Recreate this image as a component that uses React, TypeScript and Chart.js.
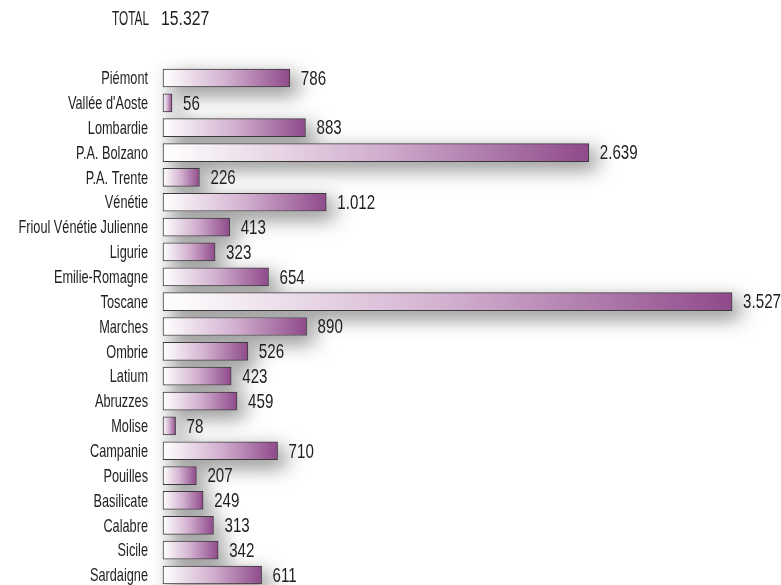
import React, { useEffect, useRef } from 'react';
import { Chart, registerables } from 'chart.js';

Chart.register(...registerables);

const regions = [
  'Piémont', "Vallée d'Aoste", 'Lombardie', 'P.A. Bolzano', 'P.A. Trente', 'Vénétie',
  'Frioul Vénétie Julienne', 'Ligurie', 'Emilie-Romagne', 'Toscane', 'Marches', 'Ombrie',
  'Latium', 'Abruzzes', 'Molise', 'Campanie', 'Pouilles', 'Basilicate', 'Calabre', 'Sicile', 'Sardaigne',
];
const values = [786, 56, 883, 2639, 226, 1012, 413, 323, 654, 3527, 890, 526, 423, 459, 78, 710, 207, 249, 313, 342, 611];
const totalLabel = 'TOTAL';
const totalValue = 15327;

const FONT = '"Liberation Sans", Arimo, Arial, sans-serif';
const TEXT = '#1e1e1e';

function fmt(n: number): string {
  return String(n).replace(/\B(?=(\d{3})+(?!\d))/g, '.');
}

function drawText(c: CanvasRenderingContext2D, text: string, x: number, y: number, size: number, sx: number, align: CanvasTextAlign) {
  c.save();
  c.translate(x, y);
  c.scale(sx, 1);
  c.font = `${size}px ${FONT}`;
  c.fillStyle = TEXT;
  c.textAlign = align;
  c.textBaseline = 'middle';
  c.fillText(text, 0, 0);
  c.restore();
}

const shadowPlugin = {
  id: 'barShadow',
  beforeDatasetsDraw(chart: any) {
    const c = chart.ctx;
    const meta = chart.getDatasetMeta(0);
    c.save();
    c.shadowColor = 'rgba(0,0,0,0.5)';
    c.shadowBlur = 20;
    c.shadowOffsetX = 8;
    c.shadowOffsetY = 7;
    c.fillStyle = '#ffffff';
    meta.data.forEach((bar: any) => {
      const { x, y, base, height } = bar.getProps(['x', 'y', 'base', 'height'], true);
      c.fillRect(Math.min(base, x), y - height / 2, Math.abs(x - base), height);
    });
    c.restore();
  },
};

const labelPlugin = {
  id: 'textLabels',
  afterDatasetsDraw(chart: any) {
    const c = chart.ctx;
    const meta = chart.getDatasetMeta(0);
    const ys = chart.scales.y;
    meta.data.forEach((bar: any, i: number) => {
      drawText(c, fmt(values[i]), bar.x + 11, bar.y + 1, 21, 0.72, 'left');
      drawText(c, regions[i], ys.right - 15, ys.getPixelForTick(i) + 1, 19, 0.67, 'right');
    });
    drawText(c, totalLabel, 112, 19, 20, 0.59, 'left');
    drawText(c, fmt(totalValue), 161, 19, 20, 0.79, 'left');
  },
};

export default function App() {
  const ref = useRef<HTMLCanvasElement>(null);
  useEffect(() => {
    if (!ref.current) return;
    const chart = new Chart(ref.current, {
      type: 'bar',
      data: {
        labels: regions,
        datasets: [
          {
            data: values,
            clip: false,
            barThickness: 18,
            borderWidth: 1,
            borderColor: '#3a3a3a',
            borderSkipped: false,
            backgroundColor: (ctx: any) => {
              const ch = ctx.chart;
              if (!ch.chartArea || ctx.raw == null) return '#914b8d';
              const xs = ch.scales.x;
              const x0 = xs.getPixelForValue(0);
              const x1 = xs.getPixelForValue(ctx.raw as number);
              const g = ch.ctx.createLinearGradient(x0, 0, Math.max(x1, x0 + 1), 0);
              g.addColorStop(0, '#ffffff');
              g.addColorStop(0.5, '#d2b0cf');
              g.addColorStop(1, '#8f4a8b');
              return g;
            },
          },
        ],
      },
      options: {
        indexAxis: 'y',
        responsive: false,
        animation: false,
        layout: { padding: { top: 78, bottom: 10, left: 0, right: 0 } },
        scales: {
          x: { display: false, min: 0, max: 3830 },
          y: {
            offset: false,
            grid: { display: false },
            border: { display: false },
            ticks: { display: false },
            afterFit: (s: any) => {
              s.width = 163;
            },
          },
        },
        plugins: {
          legend: { display: false },
          tooltip: { enabled: false },
          title: { display: false },
        },
      } as any,
      plugins: [shadowPlugin, labelPlugin],
    });
    return () => chart.destroy();
  }, []);
  return (
    <div style={{ position: 'fixed', left: 0, top: 0, width: 781, height: 585, background: '#fff' }}>
      <canvas ref={ref} width={781} height={585} />
    </div>
  );
}
